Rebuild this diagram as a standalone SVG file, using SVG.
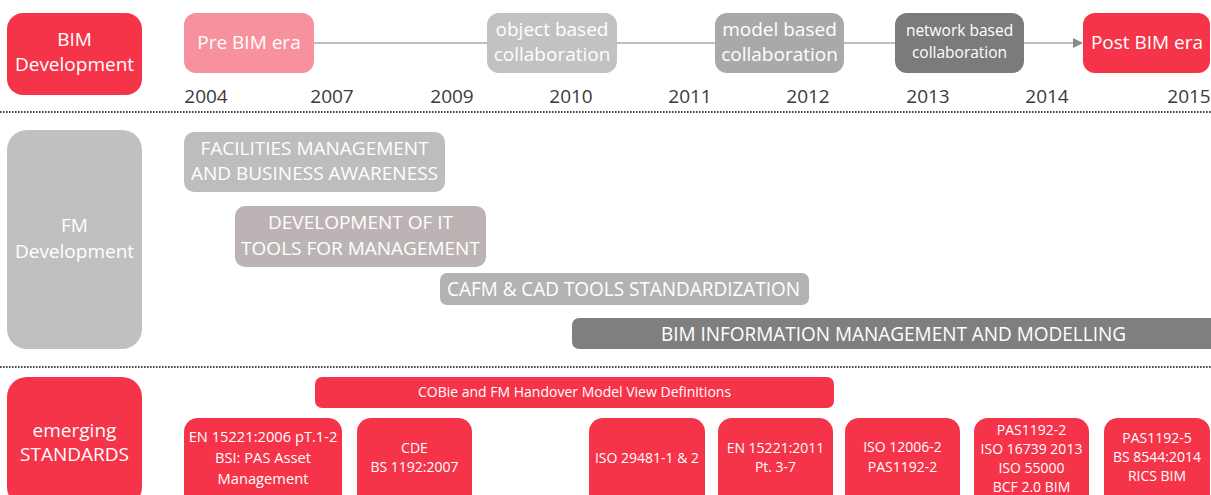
<svg xmlns="http://www.w3.org/2000/svg" width="1211" height="495" viewBox="0 0 1211 495">
<style>
text{font-family:"Open Sans","Noto Sans","Liberation Sans",sans-serif;fill:#fff;text-anchor:middle}
.red{fill:#f5344a}
.yr{fill:#3a3a3a;font-size:19px}
.t18{font-size:19px}
.t17{font-size:19px}
.t14{font-size:14px}
.t15{font-size:15.5px}
.cond{font-size:20px}
.dot{stroke:#4a4a4a;stroke-width:2;stroke-dasharray:1.6 1.4;fill:none}
.conn{stroke:#a8a8a8;stroke-width:1.5;fill:none}
</style>
<defs>
<marker id="ah" markerWidth="10" markerHeight="10" refX="9" refY="5" orient="auto" markerUnits="userSpaceOnUse">
<path d="M0,0 L10,5 L0,10 Z" fill="#8a8a8a"/>
</marker>
</defs>
<rect width="1211" height="495" fill="#fff"/>
<g id="separators">
<line class="dot" x1="0" y1="112" x2="1211" y2="112"/>
<line class="dot" x1="0" y1="367" x2="1211" y2="367"/>
</g>
<g id="connectors">
<line class="conn" x1="314" y1="43" x2="487" y2="43"/>
<line class="conn" x1="617" y1="43" x2="715" y2="43"/>
<line class="conn" x1="844" y1="43" x2="895" y2="43"/>
<line class="conn" x1="1024" y1="43" x2="1082" y2="43" marker-end="url(#ah)"/>
</g>
<g id="bim-development">
<rect class="red" x="7" y="13" width="135" height="82" rx="16"/>
<text class="t18" x="74.5" y="46">BIM</text>
<text class="t18" x="74.5" y="71">Development</text>
</g>
<g id="pre-bim">
<rect x="184" y="13" width="130" height="60" rx="12" fill="#f7919d"/>
<text class="t18" x="249" y="49">Pre BIM era</text>
</g>
<g id="object-based">
<rect x="487" y="13" width="130" height="60" rx="12" fill="#c2c2c2"/>
<text class="t18" x="552" y="36">object based</text>
<text class="t18" x="552" y="61">collaboration</text>
</g>
<g id="model-based">
<rect x="715" y="13" width="129" height="60" rx="12" fill="#a9a9a9"/>
<text class="t18" x="779.5" y="36">model based</text>
<text class="t18" x="779.5" y="61">collaboration</text>
</g>
<g id="network-based">
<rect x="895" y="13" width="129" height="60" rx="12" fill="#7b7b7b"/>
<text class="t15" x="959.5" y="36">network based</text>
<text class="t15" x="959.5" y="58">collaboration</text>
</g>
<g id="post-bim">
<rect class="red" x="1083" y="13" width="127" height="60" rx="12"/>
<text class="t18" x="1147" y="49">Post BIM era</text>
</g>
<g id="years">
<text class="yr" x="206" y="103">2004</text>
<text class="yr" x="332" y="103">2007</text>
<text class="yr" x="452" y="103">2009</text>
<text class="yr" x="571" y="103">2010</text>
<text class="yr" x="690" y="103">2011</text>
<text class="yr" x="808" y="103">2012</text>
<text class="yr" x="928" y="103">2013</text>
<text class="yr" x="1047" y="103">2014</text>
<text class="yr" x="1189" y="103">2015</text>
</g>
<g id="fm-development">
<rect x="7" y="130" width="135" height="219" rx="20" fill="#c0c0c0"/>
<text class="t18" x="74.5" y="232">FM</text>
<text class="t18" x="74.5" y="258">Development</text>
</g>
<g id="facilities">
<rect x="184" y="132" width="261" height="60" rx="10" fill="#bdbdbd"/>
<text class="t17" x="314.5" y="155">FACILITIES MANAGEMENT</text>
<text class="t17" x="314.5" y="180">AND BUSINESS AWARENESS</text>
</g>
<g id="it-tools">
<rect x="235" y="206" width="251" height="61" rx="10" fill="#bcb4b4"/>
<text class="t17" x="360.5" y="229">DEVELOPMENT OF IT</text>
<text class="t17" x="360.5" y="255">TOOLS FOR MANAGEMENT</text>
</g>
<g id="cafm">
<rect x="440" y="273" width="369" height="32" rx="7" fill="#b3b3b3"/>
<text class="cond" x="623.5" y="296" textLength="353" lengthAdjust="spacingAndGlyphs">CAFM &amp; CAD TOOLS STANDARDIZATION</text>
</g>
<g id="bim-info">
<rect x="572" y="318" width="650" height="31" rx="7" fill="#7f7f7f"/>
<text class="cond" x="893.5" y="341" textLength="465" lengthAdjust="spacingAndGlyphs">BIM INFORMATION MANAGEMENT AND MODELLING</text>
</g>
<g id="emerging-standards">
<rect class="red" x="7" y="377" width="135" height="130" rx="20"/>
<text class="t18" x="74.5" y="437">emerging</text>
<text class="t18" x="74.5" y="461">STANDARDS</text>
</g>
<g id="cobie">
<rect class="red" x="315" y="377" width="519" height="31" rx="7"/>
<text class="t14" x="574.5" y="397">COBie and FM Handover Model View Definitions</text>
</g>
<g id="en15221-2006">
<rect class="red" x="184" y="418" width="158" height="90" rx="14"/>
<text class="t14" x="263" y="442" style="font-size:14.7px">EN 15221:2006 pT.1-2</text>
<text class="t14" x="263" y="463" style="font-size:14.7px">BSI: PAS Asset</text>
<text class="t14" x="263" y="484" style="font-size:14.7px">Management</text>
</g>
<g id="cde">
<rect class="red" x="357" y="418" width="115" height="90" rx="14"/>
<text class="t14" x="414.5" y="453">CDE</text>
<text class="t14" x="414.5" y="472">BS 1192:2007</text>
</g>
<g id="iso29481">
<rect class="red" x="589" y="418" width="116" height="90" rx="14"/>
<text class="t14" x="647" y="463">ISO 29481-1 &amp; 2</text>
</g>
<g id="en15221-2011">
<rect class="red" x="718" y="418" width="115" height="90" rx="14"/>
<text class="t14" x="775.5" y="453">EN 15221:2011</text>
<text class="t14" x="775.5" y="472">Pt. 3-7</text>
</g>
<g id="iso12006">
<rect class="red" x="845" y="418" width="115" height="90" rx="14"/>
<text class="t14" x="902.5" y="452">ISO 12006-2</text>
<text class="t14" x="902.5" y="472">PAS1192-2</text>
</g>
<g id="pas1192-2">
<rect class="red" x="974" y="418" width="115" height="90" rx="14"/>
<text class="t14" x="1031.5" y="435">PAS1192-2</text>
<text class="t14" x="1031.5" y="454">ISO 16739 2013</text>
<text class="t14" x="1031.5" y="473">ISO 55000</text>
<text class="t14" x="1031.5" y="492">BCF 2.0 BIM</text>
</g>
<g id="pas1192-5">
<rect class="red" x="1104" y="418" width="106" height="90" rx="14"/>
<text class="t14" x="1157" y="443">PAS1192-5</text>
<text class="t14" x="1157" y="462">BS 8544:2014</text>
<text class="t14" x="1157" y="481">RICS BIM</text>
</g>
</svg>
